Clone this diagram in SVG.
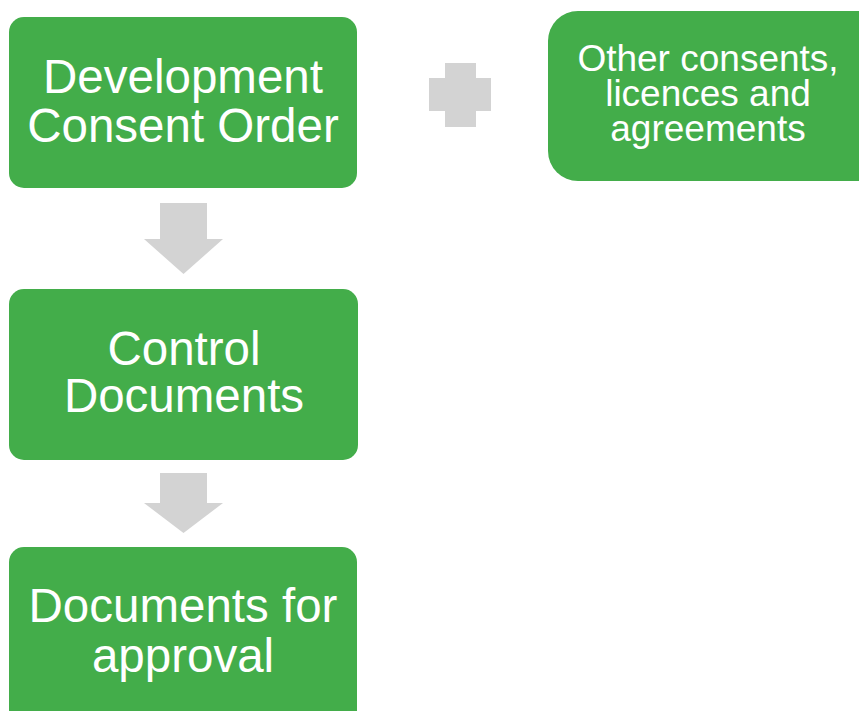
<svg xmlns="http://www.w3.org/2000/svg" width="859" height="711" viewBox="0 0 859 711">
<style>
.box{fill:#43ad4a}
.conn{fill:#d3d3d3}
.t{font-family:"Liberation Sans",Arial,sans-serif;fill:#fff;text-anchor:middle}
.big{font-size:47.5px}
.small{font-size:37px}
</style>
<rect width="859" height="711" fill="#fff"/>
<g id="connectors">
<path class="conn" d="M160,203 H207 V239 H223 L183.5,274 L144,239 H160 Z"/>
<path class="conn" d="M160,473 H207 V503 H223 L183.5,533 L144,503 H160 Z"/>
<path class="conn" d="M445,63 H476 V78 H491 V111 H476 V127 H445 V111 H429 V78 H445 Z"/>
</g>
<g id="node-dco">
<rect class="box" x="9" y="17" width="348" height="171" rx="15"/>
<text class="t big" x="183" y="93">Development</text>
<text class="t big" x="183" y="142">Consent Order</text>
</g>
<g id="node-control">
<rect class="box" x="9" y="289" width="349" height="171" rx="15"/>
<text class="t big" x="184" y="365">Control</text>
<text class="t big" x="184" y="412">Documents</text>
</g>
<g id="node-approval">
<rect class="box" x="9" y="547" width="348" height="185" rx="15"/>
<text class="t big" x="183" y="622">Documents for</text>
<text class="t big" x="183" y="672">approval</text>
</g>
<g id="node-other">
<rect class="box" x="548" y="11" width="340" height="170" rx="30"/>
<text class="t small" x="708" y="71">Other consents,</text>
<text class="t small" x="708" y="106">licences and</text>
<text class="t small" x="708" y="141">agreements</text>
</g>
</svg>
